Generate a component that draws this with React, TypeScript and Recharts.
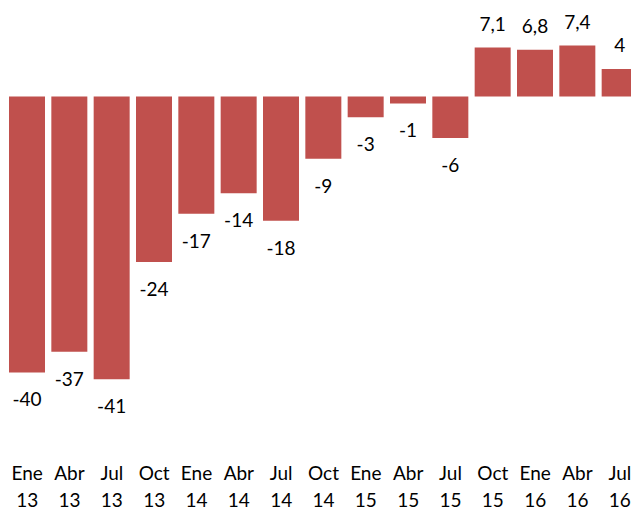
import React from "react";
import { BarChart, Bar, XAxis, YAxis, LabelList } from "recharts";

const months = ["Ene", "Abr", "Jul", "Oct", "Ene", "Abr", "Jul", "Oct", "Ene", "Abr", "Jul", "Oct", "Ene", "Abr", "Jul"];
const years = ["13", "13", "13", "13", "14", "14", "14", "14", "15", "15", "15", "15", "16", "16", "16"];
const values = [-40, -37, -41, -24, -17, -14, -18, -9, -3, -1, -6, 7.1, 6.8, 7.4, 4];

const data = values.map((v, i) => ({ key: `${months[i]} ${years[i]}`, month: months[i], year: years[i], value: v }));

const FONT = "Lato, 'Open Sans', sans-serif";

const fmt = (v: number) => (Number.isInteger(v) ? String(v) : String(v).replace(".", ","));

const ValueLabel = (props: any) => {
  const { x, y, width, height, value } = props;
  const top = Math.min(y, y + height);
  const bottom = Math.max(y, y + height);
  const cx = x + width / 2;
  const ty = value < 0 ? bottom + 34 : top - 17;
  return (
    <text x={cx} y={ty} textAnchor="middle" fontFamily={FONT} fontSize={19} fill="#000">
      {fmt(value)}
    </text>
  );
};

const Tick = (props: any) => {
  const { x, y, index } = props;
  return (
    <text x={x} y={y} textAnchor="middle" fontFamily={FONT} fontSize={19} fill="#000">
      <tspan x={x} dy={34}>{months[index]}</tspan>
      <tspan x={x} dy={27}>{years[index]}</tspan>
    </text>
  );
};

export default function App() {
  return (
    <div style={{ position: "absolute", left: 0, top: 0, width: 631, height: 511, overflow: "hidden", background: "#fff" }}>
      <BarChart width={641} height={511} data={data} margin={{ top: 0, right: 0, left: 6, bottom: 0 }}>
        <XAxis dataKey="key" height={73} axisLine={false} tickLine={false} tick={<Tick />} interval={0} />
        <YAxis hide domain={[-49.5, 14]} />
        <Bar dataKey="value" fill="#C0504D" barSize={36} isAnimationActive={false}>
          <LabelList dataKey="value" content={<ValueLabel />} />
        </Bar>
      </BarChart>
    </div>
  );
}
